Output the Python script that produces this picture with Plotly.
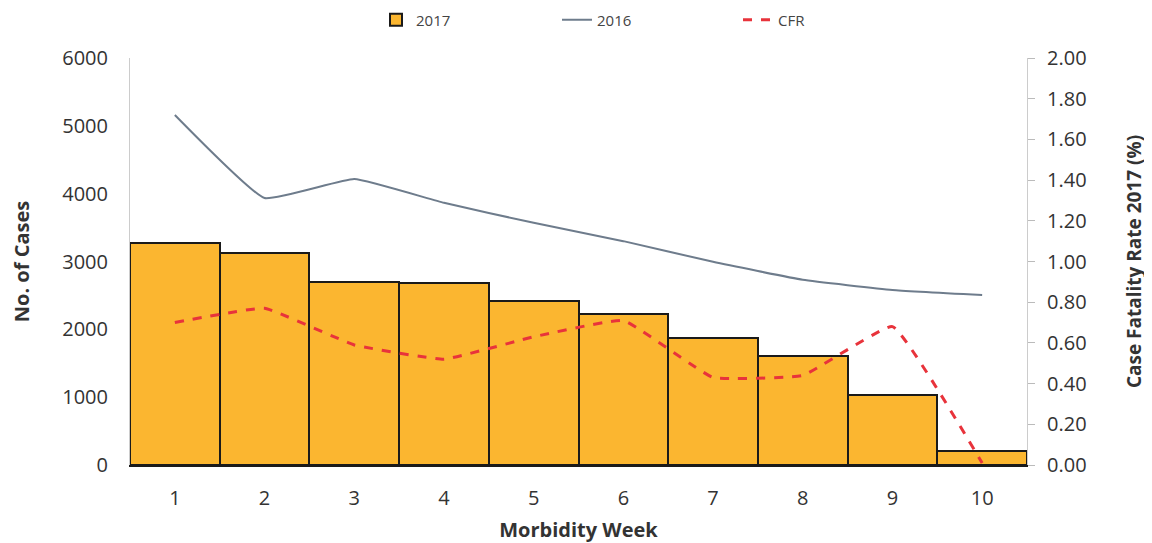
import plotly.graph_objects as go

# Daten
weeks = [1, 2, 3, 4, 5, 6, 7, 8, 9, 10]
cases_2017 = [3270, 3120, 2705, 2690, 2420, 2230, 1875, 1605, 1035, 205]
cases_2016 = [5160, 3936, 4216, 3865, 3570, 3300, 2995, 2730, 2580, 2505]
cfr_2017 = [0.70, 0.77, 0.59, 0.52, 0.63, 0.71, 0.43, 0.44, 0.68, 0.01]

FONT = "Open Sans"
TXT = "#333333"

# Seite hat 8px Rand -> Figur etwas kleiner
W, H = 1144, 535

fig = go.Figure()

fig.add_trace(go.Bar(
    x=weeks, y=cases_2017, name="2017",
    marker=dict(color="#FBB630", line=dict(color="#1a1a1a", width=2)),
    width=1.0,
))

fig.add_trace(go.Scatter(
    x=weeks, y=cases_2016, name="2016", mode="lines",
    line=dict(color="#6E7C8C", width=2, shape="spline", smoothing=0.35),
))

fig.add_trace(go.Scatter(
    x=weeks, y=cfr_2017, name="CFR", mode="lines", yaxis="y2",
    line=dict(color="#E8333B", width=3, dash="dash", shape="spline", smoothing=0.3),
))

fig.update_layout(
    width=W, height=H,
    paper_bgcolor="white", plot_bgcolor="white",
    margin=dict(l=122, r=125, t=50, b=78, autoexpand=False),
    font=dict(family=FONT, size=20, color=TXT),
    bargap=0,
    showlegend=True,
    legend=dict(
        orientation="h", xref="container", x=368 / W, xanchor="left",
        y=1 - 12 / H, yanchor="middle", yref="container",
        font=dict(size=15, color="#444444"),
        entrywidth=136, entrywidthmode="pixels", traceorder="normal",
    ),
    xaxis=dict(
        range=[0.5, 10.5], tickmode="array", tickvals=weeks,
        ticktext=[str(w) for w in weeks],
        showgrid=False, zeroline=False, automargin=False,
        showline=True, linecolor="#1a1a1a", linewidth=2,
        ticks="", ticklabelstandoff=14,
        title=dict(text="<b>Morbidity Week</b>", font=dict(size=20, color=TXT), standoff=15),
    ),
    yaxis=dict(
        range=[0, 6000], tickvals=[0, 1000, 2000, 3000, 4000, 5000, 6000],
        showgrid=False, zeroline=False, automargin=False,
        showline=True, linecolor="#cccccc", linewidth=1,
        ticks="", ticklabelstandoff=17,
        title=dict(text="<b>No. of Cases</b>", font=dict(size=20, color=TXT), standoff=30),
    ),
    yaxis2=dict(
        overlaying="y", side="right", range=[0, 2.0],
        tickvals=[0, 0.2, 0.4, 0.6, 0.8, 1.0, 1.2, 1.4, 1.6, 1.8, 2.0],
        tickformat=".2f", automargin=False,
        showgrid=False, zeroline=False,
        showline=True, linecolor="#cccccc", linewidth=1,
        ticks="outside", ticklen=7, tickcolor="#bbbbbb",
        ticklabelstandoff=8,
        title=dict(text="<b>Case Fatality Rate 2017 (%)</b>", font=dict(size=19, color=TXT), standoff=42),
    ),
)

fig.write_html("out.html")
